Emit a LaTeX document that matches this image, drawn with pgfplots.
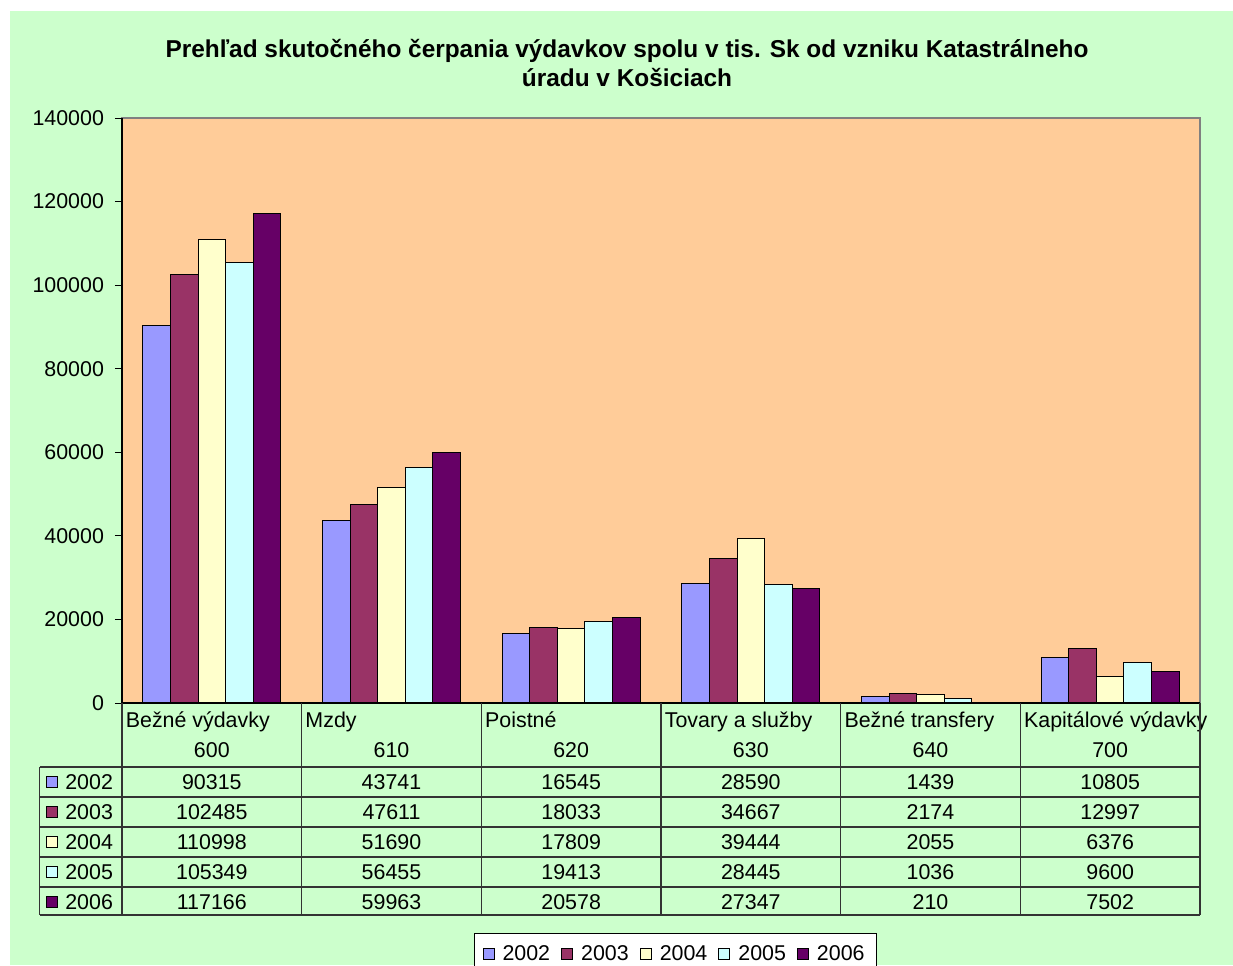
\documentclass[border=0pt]{standalone}
\usepackage{pgfplots}
\pgfplotsset{compat=1.18}
\usepackage{pgfplotstable}
\usepackage{fontspec}
\setmainfont{Liberation Sans}

\definecolor{c2002}{HTML}{9999FF}
\definecolor{c2003}{HTML}{993366}
\definecolor{c2004}{HTML}{FFFFCC}
\definecolor{c2005}{HTML}{CCFFFF}
\definecolor{c2006}{HTML}{660066}
\definecolor{peach}{HTML}{FFCC99}
\definecolor{bg}{HTML}{CCFFCC}
\definecolor{gridc}{HTML}{333333}

% výdavky v tis. Sk, podľa kategórie
\pgfplotstableread{
x y2002 y2003 y2004 y2005 y2006
0 90315 102485 110998 105349 117166
1 43741 47611 51690 56455 59963
2 16545 18033 17809 19413 20578
3 28590 34667 39444 28445 27347
4 1439 2174 2055 1036 210
5 10805 12997 6376 9600 7502
}\vydavky

\newcommand\hdr[2]{\parbox[t]{86pt}{\makebox[86pt][l]{\rule{0pt}{10pt}#1}\par\vspace{2pt}\centering #2}}

\pgfplotsset{
  mybar/.style={ybar, bar width=13.8pt, draw=black, line width=0.5pt,
    legend image code/.code={\draw[##1] (0pt,-2.75pt) rectangle (5.5pt,2.75pt);}},
  celltext/.style={forget plot, draw=none, mark=none, nodes near coords,
    point meta=explicit symbolic, nodes near coords style={anchor=center, inner sep=0pt, black}},
}

\begin{document}
\begin{tikzpicture}[font=\fontsize{10.7}{12.8}\selectfont]
\path[use as bounding box, fill=white] (-61pt,-131pt) rectangle (555.5pt,351.5pt);
\fill[bg] (-56pt,-131pt) rectangle (555.5pt,346pt);
\begin{axis}[
  at={(0,0)}, anchor=south west,
  width=539pt, height=292.5pt, scale only axis,
  xmin=-0.5, xmax=5.5, ymin=0, ymax=140000,
  clip=false,
  axis background/.style={fill=peach},
  axis line style={draw=gray, line width=0.7pt},
  ytick distance=20000, scaled y ticks=false,
  ytick pos=left, tick align=outside, major tick length=3.5pt,
  y tick style={black, line width=0.5pt},
  yticklabel style={/pgf/number format/fixed, /pgf/number format/1000 sep={}, xshift=-2pt},
  /pgf/number format/assume math mode=true,
  xtick={0,...,5},
  x tick style={draw=none},
  xticklabels={\hdr{Bežné výdavky}{600},\hdr{Mzdy}{610},\hdr{Poistné}{620},
    \hdr{Tovary a služby}{630},\hdr{Bežné transfery}{640},\hdr{Kapitálové výdavky}{700}},
  xticklabel style={anchor=north, inner sep=0pt, yshift=1.5pt},
  legend columns=5,
  legend style={at={(0.5135,-0.393)}, anchor=north, draw=black, fill=white,
    line width=0.5pt, inner sep=4pt,
    /tikz/every odd column/.append style={column sep=2pt},
    /tikz/every even column/.append style={column sep=3.5pt}},
]
\addplot[mybar, bar shift=-27.6pt, fill=c2002] table[x=x,y=y2002]{\vydavky};
\addlegendentry{2002}
\addplot[mybar, bar shift=-13.8pt, fill=c2003] table[x=x,y=y2003]{\vydavky};
\addlegendentry{2003}
\addplot[mybar, bar shift=0pt, fill=c2004] table[x=x,y=y2004]{\vydavky};
\addlegendentry{2004}
\addplot[mybar, bar shift=13.8pt, fill=c2005] table[x=x,y=y2005]{\vydavky};
\addlegendentry{2005}
\addplot[mybar, bar shift=27.6pt, fill=c2006] table[x=x,y=y2006]{\vydavky};
\addlegendentry{2006}

% left and bottom axis lines in black
\draw[black, line width=0.7pt] (axis cs:-0.5,0) -- (axis cs:-0.5,140000);
\draw[black, line width=0.7pt] (axis cs:-0.5,0) -- (axis cs:5.5,0);

% data table grid
\pgfplotsinvokeforeach{-0.5,0.5,1.5,2.5,3.5,4.5,5.5}{
  \draw[gridc, line width=0.6pt] (axis cs:#1,0) -- (axis cs:#1,-50735);
}
\draw[gridc, line width=0.6pt] (axis cs:-0.957,-15316) -- (axis cs:-0.957,-50735);
\pgfplotsinvokeforeach{-15316,-22496,-29675,-36855,-44034,-50735}{
  \draw[gridc, line width=0.6pt] (axis cs:-0.957,#1) -- (axis cs:5.5,#1);
}

% table values
\addplot[celltext] table[x=x, y expr=-18906, meta=y2002]{\vydavky};
\addplot[celltext] table[x=x, y expr=-26085, meta=y2003]{\vydavky};
\addplot[celltext] table[x=x, y expr=-33265, meta=y2004]{\vydavky};
\addplot[celltext] table[x=x, y expr=-40444, meta=y2005]{\vydavky};
\addplot[celltext] table[x=x, y expr=-47624, meta=y2006]{\vydavky};

% row keys
\pgfplotsset{rowkey/.style={forget plot, only marks, mark=square*, mark size=2.75pt,
  mark options={fill=#1, draw=black, line width=0.5pt},
  nodes near coords, point meta=explicit symbolic,
  nodes near coords style={anchor=west, inner sep=0pt, xshift=6.5pt, black}}}
\addplot[rowkey=c2002] coordinates {(-0.8905,-18906) [2002]};
\addplot[rowkey=c2003] coordinates {(-0.8905,-26085) [2003]};
\addplot[rowkey=c2004] coordinates {(-0.8905,-33265) [2004]};
\addplot[rowkey=c2005] coordinates {(-0.8905,-40444) [2005]};
\addplot[rowkey=c2006] coordinates {(-0.8905,-47624) [2006]};

\node[font=\bfseries\fontsize{12.2}{14.5}\selectfont, align=center, yshift=27.25pt]
  at (rel axis cs:0.4685,1) {Prehľad skutočného čerpania výdavkov spolu v tis. Sk od vzniku Katastrálneho\\úradu v Košiciach};
\end{axis}
\end{tikzpicture}
\end{document}
